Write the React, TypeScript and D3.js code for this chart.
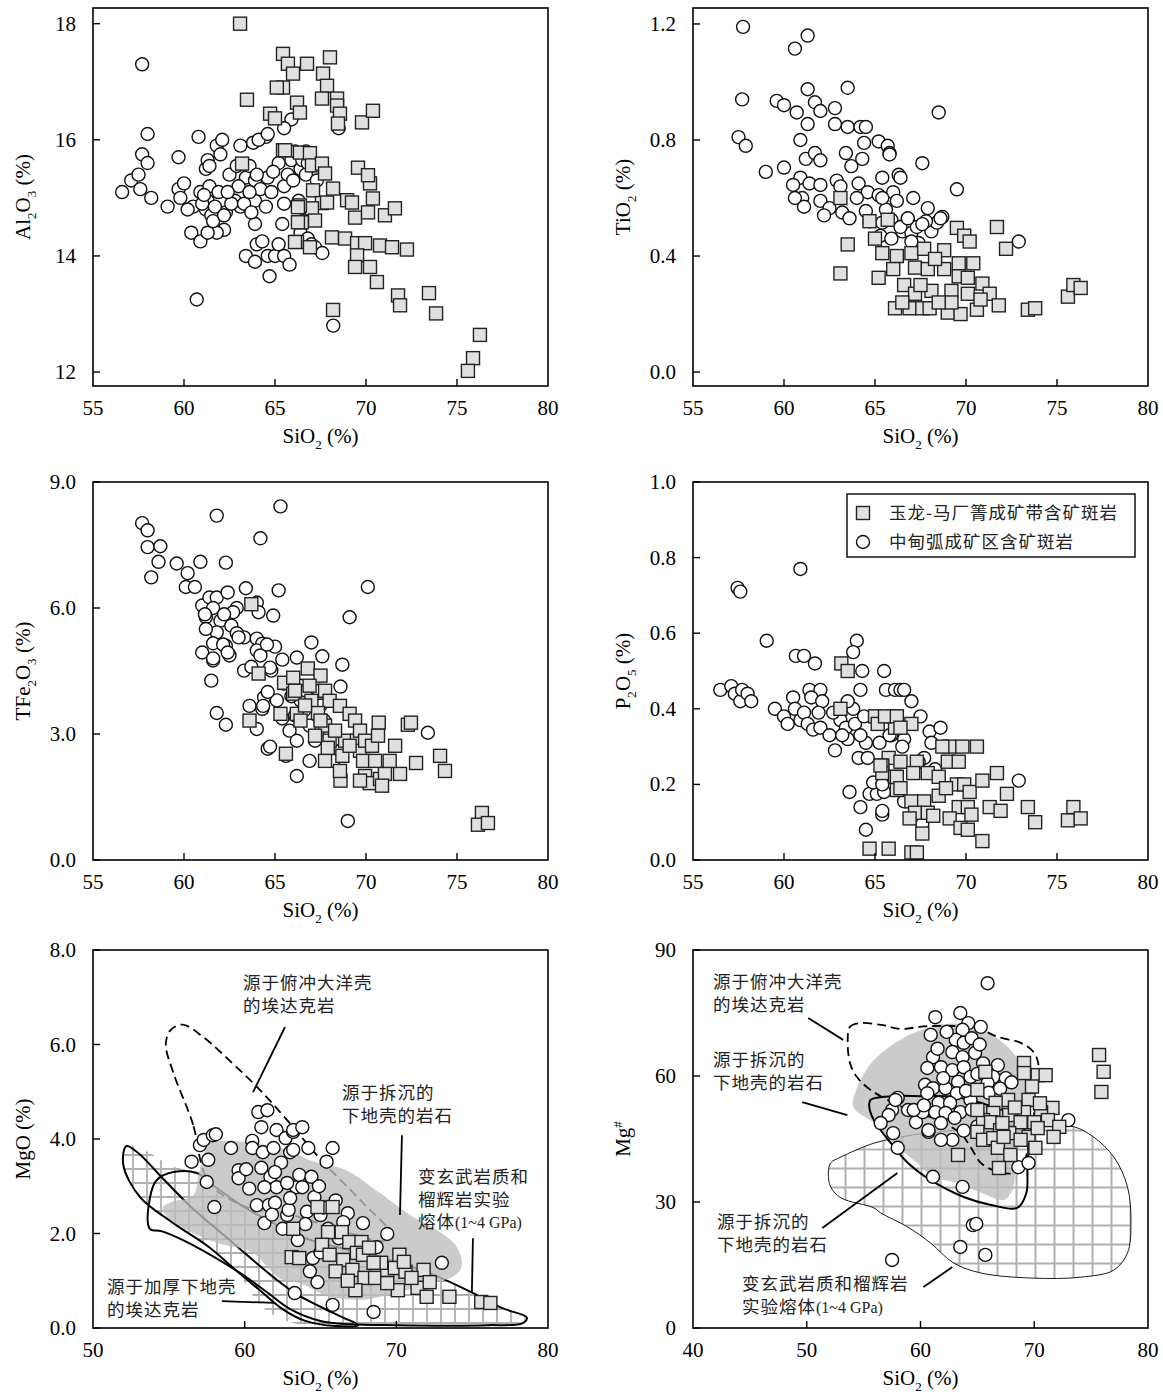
import React from "react";
import * as d3 from "d3";

type P = [number, number];

// ---------- data (SiO2, oxide) ----------
const al2o3Circles: P[] = [
  [57.7, 17.3], [58.0, 16.1], [57.7, 15.75], [58.0, 15.6], [56.6, 15.1], [57.1, 15.3], [57.5, 15.4], [57.6, 15.15],
  [58.2, 15.0], [59.1, 14.85], [59.7, 15.7], [59.7, 15.15], [60.0, 15.25], [60.8, 16.05], [60.4, 14.4], [60.7, 13.25],
  [60.9, 14.25], [60.5, 14.85], [60.9, 15.1], [61.2, 15.5], [61.3, 15.65], [61.4, 15.55], [61.4, 15.2], [61.3, 14.95],
  [61.2, 14.8], [61.5, 14.7], [61.9, 15.1], [61.8, 15.9], [62.1, 16.0], [62.0, 15.75], [62.3, 14.75], [62.2, 14.45],
  [61.8, 14.4], [61.3, 14.4], [62.8, 14.95], [63.1, 14.85], [63.1, 15.9], [63.4, 15.35], [63.6, 15.55], [63.8, 15.95],
  [63.9, 14.95], [63.9, 15.3], [64.2, 15.15], [64.5, 14.85], [64.6, 15.35], [63.9, 14.55], [64.0, 14.2], [64.3, 14.25],
  [63.4, 14.0], [63.9, 13.9], [64.6, 14.0], [64.7, 13.65], [64.5, 16.05], [64.1, 16.0], [65.0, 14.0], [65.2, 14.2],
  [65.5, 14.0], [65.8, 13.85], [65.4, 14.55], [65.5, 14.9], [65.5, 15.2], [65.7, 15.4], [65.9, 15.65], [65.9, 16.35],
  [66.1, 15.8], [66.4, 15.5], [66.3, 14.95], [66.7, 15.8], [66.5, 14.6], [66.4, 14.4], [66.8, 14.3], [67.0, 14.2],
  [67.2, 14.15], [67.6, 14.05], [68.2, 12.8], [68.5, 16.2], [66.5, 15.65], [67.0, 15.55], [66.7, 15.4], [61.0, 14.9],
  [61.6, 14.6], [62.6, 14.9], [63.3, 14.9], [64.0, 15.4], [64.8, 15.1], [65.2, 15.6], [66.0, 15.3], [66.8, 15.6],
  [67.3, 15.3], [64.6, 16.1], [65.5, 16.2], [62.5, 15.4], [63.0, 15.2], [60.2, 14.8], [59.8, 15.0], [61.1, 15.05],
  [61.7, 14.85], [62.4, 15.1], [62.9, 15.55], [63.6, 15.1], [64.9, 15.45], [62.2, 14.7], [63.7, 14.75],
];
const al2o3Squares: P[] = [
  [63.08, 18.0], [63.46, 16.69], [68.02, 17.42], [66.76, 17.31], [65.44, 17.48], [65.71, 17.31], [65.99, 17.14],
  [67.64, 17.14], [67.86, 16.93], [67.58, 16.71], [68.41, 16.71], [68.41, 16.59], [68.57, 16.45], [68.46, 16.28],
  [69.78, 16.3], [70.38, 16.5], [66.21, 16.64], [66.37, 16.47], [65.44, 16.9], [64.73, 16.45], [65.0, 16.37],
  [65.44, 15.82], [66.37, 15.78], [66.92, 15.77], [67.03, 15.56], [67.58, 15.59], [67.75, 15.42], [68.19, 15.16],
  [67.09, 15.13], [67.58, 14.91], [67.03, 14.82], [66.37, 14.87], [67.86, 14.92], [68.96, 14.96], [69.23, 14.92],
  [69.4, 14.66], [70.11, 14.75], [70.38, 14.99], [69.56, 15.52], [70.22, 15.25], [70.11, 15.39], [71.04, 14.7],
  [71.59, 14.82], [66.48, 14.58], [67.2, 14.61], [68.13, 14.32], [68.85, 14.3], [69.51, 14.22], [69.95, 14.22],
  [70.77, 14.18], [71.43, 14.15], [72.25, 14.11], [66.21, 14.24], [66.92, 14.15], [69.51, 14.01], [69.4, 13.81],
  [70.22, 13.81], [70.6, 13.55], [71.76, 13.32], [71.87, 13.15], [73.46, 13.36], [73.85, 13.01], [68.19, 13.07],
  [76.26, 12.64], [75.88, 12.24], [75.6, 12.02], [63.19, 15.59], [65.55, 15.82], [66.26, 14.84], [66.26, 14.58],
  [66.1, 14.24], [65.1, 16.9],
];

const tio2Circles: P[] = [
  [57.75, 1.19], [61.3, 1.16], [60.6, 1.115], [57.7, 0.94], [59.6, 0.935], [60.0, 0.92], [61.3, 0.975], [63.5, 0.98],
  [57.5, 0.81], [57.9, 0.78], [59.0, 0.69], [60.7, 0.895], [61.3, 0.855], [61.7, 0.93], [62.0, 0.9], [62.8, 0.91],
  [62.8, 0.855], [63.5, 0.845], [64.2, 0.845], [64.5, 0.845], [64.4, 0.79], [65.2, 0.795], [65.7, 0.78], [65.8, 0.755],
  [60.9, 0.8], [61.2, 0.735], [61.7, 0.755], [62.0, 0.73], [63.4, 0.755], [63.7, 0.71], [64.3, 0.735], [65.4, 0.67],
  [60.9, 0.67], [60.0, 0.705], [60.5, 0.645], [61.0, 0.6], [61.4, 0.65], [62.0, 0.645], [62.9, 0.66], [64.1, 0.65],
  [64.6, 0.62], [65.2, 0.61], [66.0, 0.62], [66.2, 0.59], [62.0, 0.59], [62.5, 0.565], [62.2, 0.54], [63.2, 0.55],
  [63.6, 0.53], [64.5, 0.555], [64.7, 0.52], [65.4, 0.515], [65.9, 0.525], [66.5, 0.485], [66.8, 0.52], [67.0, 0.48],
  [67.4, 0.445], [68.1, 0.485], [68.4, 0.515], [68.7, 0.535], [67.9, 0.565], [68.5, 0.895], [67.6, 0.72], [69.5, 0.63],
  [72.9, 0.45], [61.1, 0.57], [60.6, 0.6], [63.1, 0.64], [64.0, 0.6], [65.6, 0.56], [66.3, 0.68], [67.1, 0.6],
  [67.3, 0.5], [66.4, 0.5], [65.3, 0.47], [67.8, 0.52], [65.8, 0.75], [66.4, 0.67], [65.4, 0.6], [66.8, 0.53],
  [65.9, 0.46], [67.0, 0.45], [67.6, 0.51], [68.6, 0.53],
];
const tio2Squares: P[] = [
  [63.1, 0.6], [64.7, 0.52], [65.7, 0.525], [65.0, 0.46], [63.5, 0.44], [63.1, 0.34], [65.2, 0.325], [65.4, 0.41],
  [66.2, 0.4], [67.0, 0.41], [67.7, 0.425], [66.0, 0.355], [67.2, 0.36], [66.6, 0.3], [67.2, 0.27], [68.1, 0.28],
  [66.1, 0.22], [66.9, 0.22], [67.6, 0.22], [68.0, 0.22], [69.5, 0.497], [69.9, 0.47], [70.2, 0.45], [71.7, 0.5],
  [72.2, 0.425], [68.8, 0.42], [69.6, 0.375], [70.4, 0.375], [69.6, 0.33], [70.1, 0.325], [70.9, 0.305], [71.3, 0.27],
  [71.8, 0.23], [69.2, 0.28], [70.1, 0.27], [69.0, 0.205], [69.7, 0.2], [70.6, 0.215], [73.4, 0.215], [73.8, 0.22],
  [75.6, 0.26], [75.9, 0.3], [76.3, 0.29], [69.2, 0.24], [67.9, 0.355], [68.8, 0.355], [66.5, 0.24], [67.5, 0.3],
  [68.5, 0.24], [70.8, 0.25], [68.3, 0.39],
];

const tfeCircles: P[] = [
  [57.7, 8.02], [58.0, 7.85], [58.0, 7.45], [58.7, 7.47], [58.6, 7.1], [58.2, 6.73], [59.6, 7.06], [60.2, 6.83],
  [60.1, 6.5], [60.6, 6.5], [60.9, 7.1], [61.8, 8.2], [62.3, 7.08], [64.2, 7.66], [65.3, 8.42], [61.0, 6.06],
  [61.4, 6.25], [61.8, 6.25], [62.4, 6.37], [63.4, 6.47], [61.2, 5.78], [61.6, 6.0], [62.0, 5.7], [62.6, 5.58],
  [61.8, 5.42], [61.2, 5.5], [61.6, 5.16], [62.3, 5.1], [61.0, 4.94], [61.6, 4.75], [61.5, 4.27], [62.5, 4.87],
  [63.3, 5.3], [64.0, 5.27], [64.3, 5.15], [65.0, 5.08], [64.0, 4.99], [64.2, 4.87], [65.4, 4.77], [63.3, 4.51],
  [64.8, 4.51], [61.8, 3.5], [62.3, 3.22], [63.6, 3.67], [64.0, 3.12], [64.6, 2.65], [64.4, 3.87], [64.3, 3.6],
  [65.1, 3.8], [64.0, 6.13], [64.1, 5.9], [64.9, 5.82], [65.2, 6.42], [66.2, 4.82], [65.6, 2.48], [66.2, 2.0],
  [67.0, 5.18], [67.6, 4.85], [68.7, 4.65], [69.1, 5.78], [70.1, 6.5], [69.0, 0.93], [68.6, 4.13], [67.4, 4.03],
  [66.4, 3.8], [66.6, 3.56], [66.9, 3.2], [67.2, 2.84], [68.0, 2.96], [67.5, 3.68], [66.4, 4.15], [73.4, 3.03],
  [65.8, 3.08], [66.1, 3.44], [66.2, 2.84], [65.4, 3.37], [66.7, 4.03], [67.7, 3.32], [68.6, 2.6], [68.2, 2.36],
  [66.9, 2.36], [62.9, 6.0], [62.7, 5.9], [62.9, 5.4], [63.7, 4.6], [65.5, 4.2], [64.6, 4.0], [65.9, 3.9],
  [63.0, 5.3], [64.56, 5.13], [64.73, 4.58], [62.2, 5.85], [61.15, 5.85], [62.15, 5.13], [62.4, 4.94], [61.6, 4.8],
  [64.35, 3.67], [64.73, 2.7],
];
const tfeSquares: P[] = [
  [63.7, 6.09], [64.1, 4.44], [63.6, 3.32], [65.3, 3.48], [65.5, 4.22], [66.0, 4.34], [66.0, 3.96], [66.2, 3.48],
  [65.6, 2.53], [66.8, 4.56], [67.5, 4.39], [67.75, 4.03], [68.0, 3.79], [68.57, 3.67], [69.1, 3.48], [69.4, 3.32],
  [67.0, 3.79], [67.36, 3.5], [67.75, 3.2], [68.0, 2.84], [68.85, 2.84], [68.7, 2.48], [68.6, 1.89], [68.57, 2.12],
  [69.5, 2.84], [69.67, 2.6], [69.84, 2.36], [69.95, 2.0], [70.2, 1.83], [70.77, 1.93], [71.04, 2.05], [69.67, 3.08],
  [69.95, 2.84], [70.33, 2.72], [70.7, 3.27], [72.3, 3.22], [72.47, 3.27], [72.75, 2.31], [74.07, 2.48], [74.34, 2.12],
  [71.87, 2.05], [70.88, 1.77], [69.67, 1.89], [76.37, 1.12], [76.15, 0.84], [76.7, 0.88], [67.75, 2.36], [67.9, 2.67],
  [68.3, 3.08], [67.2, 2.96], [66.4, 3.32], [66.65, 3.68], [66.1, 4.03], [66.9, 4.15], [67.5, 3.32], [69.1, 2.72],
  [70.5, 2.36], [71.3, 2.36], [71.6, 2.72], [70.66, 2.96],
];

const p2o5Circles: P[] = [
  [56.5, 0.45], [57.1, 0.46], [57.3, 0.44], [57.6, 0.42], [57.7, 0.45], [58.0, 0.44], [58.2, 0.42], [57.45, 0.72],
  [57.6, 0.71], [59.05, 0.58], [60.9, 0.77], [60.65, 0.54], [61.1, 0.54], [61.7, 0.52], [59.5, 0.4], [60.0, 0.38],
  [60.5, 0.43], [60.6, 0.4], [60.9, 0.37], [61.4, 0.45], [62.0, 0.45], [61.5, 0.43], [62.1, 0.42], [61.1, 0.39],
  [61.3, 0.36], [61.6, 0.345], [61.9, 0.39], [62.0, 0.35], [62.8, 0.29], [63.1, 0.37], [63.4, 0.35], [63.5, 0.32],
  [63.9, 0.36], [63.8, 0.4], [64.0, 0.58], [63.8, 0.55], [64.3, 0.5], [64.2, 0.45], [63.5, 0.42], [64.4, 0.38],
  [64.1, 0.27], [64.6, 0.27], [64.5, 0.31], [64.2, 0.33], [63.6, 0.18], [64.2, 0.14], [64.5, 0.08], [64.7, 0.175],
  [65.1, 0.175], [64.9, 0.205], [65.4, 0.12], [65.5, 0.5], [65.6, 0.45], [65.25, 0.31], [65.9, 0.33], [66.1, 0.45],
  [65.5, 0.18], [66.4, 0.45], [66.6, 0.45], [66.2, 0.37], [66.6, 0.32], [67.0, 0.42], [67.5, 0.38], [68.0, 0.34],
  [68.6, 0.35], [67.7, 0.27], [68.3, 0.24], [68.1, 0.31], [67.4, 0.26], [72.9, 0.21], [65.4, 0.2], [65.4, 0.13],
  [67.6, 0.095], [66.6, 0.155], [65.8, 0.33], [66.5, 0.3], [62.5, 0.33], [60.2, 0.36], [62.7, 0.39], [63.2, 0.33],
];
const p2o5Squares: P[] = [
  [63.15, 0.52], [63.5, 0.5], [63.1, 0.4], [65.0, 0.38], [65.15, 0.36], [66.0, 0.38], [66.1, 0.35], [65.75, 0.27],
  [65.4, 0.25], [65.4, 0.23], [66.1, 0.22], [66.2, 0.185], [64.7, 0.03], [65.75, 0.03], [65.55, 0.38], [66.2, 0.38],
  [67.0, 0.36], [66.4, 0.35], [65.3, 0.25], [66.4, 0.26], [67.3, 0.26], [67.9, 0.23], [67.1, 0.23], [66.2, 0.22],
  [66.4, 0.19], [67.0, 0.155], [67.7, 0.155], [68.5, 0.17], [67.2, 0.125], [67.9, 0.125], [66.9, 0.11], [68.2, 0.117],
  [67.6, 0.07], [67.0, 0.02], [67.3, 0.02], [69.1, 0.3], [69.8, 0.3], [70.6, 0.3], [69.0, 0.26], [69.6, 0.26],
  [69.5, 0.2], [69.9, 0.2], [70.2, 0.18], [69.6, 0.14], [70.1, 0.14], [69.1, 0.11], [69.7, 0.085], [70.1, 0.08],
  [70.3, 0.12], [70.9, 0.05], [70.9, 0.21], [71.7, 0.23], [72.25, 0.175], [71.3, 0.14], [71.9, 0.13], [73.4, 0.14],
  [73.8, 0.1], [75.6, 0.105], [75.9, 0.14], [76.3, 0.11], [68.7, 0.3], [68.5, 0.22], [68.9, 0.19],
];

const mgoCircles: P[] = [
  [57.05, 3.87], [57.3, 3.98], [57.9, 4.08], [58.1, 4.1], [56.5, 3.52], [57.6, 3.56], [57.5, 3.09], [58.0, 2.56],
  [59.1, 3.81], [59.6, 3.34], [59.6, 3.17], [60.1, 3.36], [60.5, 3.96], [60.9, 4.57], [61.5, 4.61], [61.1, 4.25],
  [60.5, 3.81], [61.2, 3.72], [61.9, 3.81], [62.1, 4.19], [62.7, 4.02], [63.2, 4.15], [63.0, 3.72], [61.1, 3.39],
  [61.7, 3.2], [62.1, 2.98], [63.4, 2.98], [61.3, 2.98], [60.8, 2.6], [61.6, 2.6], [62.0, 2.65], [61.3, 2.22],
  [62.8, 2.39], [63.3, 0.74], [63.5, 1.86], [63.2, 4.19], [63.8, 4.25], [63.2, 3.77], [64.2, 3.81], [65.8, 3.81],
  [65.4, 3.52], [63.6, 3.24], [64.4, 3.2], [62.8, 3.07], [63.8, 2.98], [64.6, 2.77], [66.0, 2.7], [62.9, 2.5],
  [64.1, 2.46], [65.0, 2.39], [66.8, 2.43], [66.5, 2.24], [67.8, 2.22], [68.7, 1.71], [69.4, 1.99], [64.5, 1.48],
  [64.8, 0.97], [65.8, 0.49], [68.5, 0.34], [73.0, 1.38], [62.4, 3.5], [62.0, 3.3], [63.0, 2.75], [64.9, 3.0],
  [65.2, 2.55], [61.8, 2.4], [60.3, 2.95], [62.5, 2.1], [64.0, 2.2], [65.5, 2.1], [66.2, 1.9], [64.3, 1.2], [65.0, 1.6],
];
const mgoSquares: P[] = [
  [63.2, 2.1], [63.1, 1.5], [63.6, 1.48], [64.8, 2.56], [65.8, 2.56], [65.5, 2.03], [66.4, 2.03], [66.9, 1.82],
  [67.7, 1.82], [65.1, 1.76], [65.6, 1.55], [66.5, 1.44], [67.4, 1.59], [67.8, 1.55], [67.1, 1.23], [67.9, 1.06],
  [68.6, 1.06], [69.4, 1.23], [69.9, 1.27], [70.2, 1.55], [70.6, 1.19], [71.4, 0.85], [71.8, 1.23], [72.2, 0.97],
  [72.0, 0.66], [70.1, 0.8], [67.3, 0.8], [73.5, 0.66], [75.6, 0.55], [76.2, 0.53], [69.0, 1.38], [69.4, 0.95],
  [68.5, 1.38], [71.0, 1.06], [66.0, 1.2], [68.2, 1.7], [70.5, 1.4], [66.8, 1.0],
];

const mgnoCircles: P[] = [
  [61.3, 74.0], [60.9, 69.8], [61.1, 64.5], [60.6, 61.9], [60.4, 57.9], [61.1, 57.1], [60.6, 55.9], [58.0, 54.8],
  [57.5, 51.9], [57.2, 50.7], [56.5, 48.8], [57.6, 46.4], [58.0, 42.9], [58.9, 51.9], [59.6, 51.4], [59.6, 49.0],
  [60.7, 46.7], [60.2, 51.4], [61.1, 36.0], [57.5, 16.2], [65.9, 82.1], [63.5, 75.0], [64.2, 72.6], [65.3, 71.7],
  [63.7, 71.0], [63.1, 68.6], [63.8, 67.9], [62.8, 65.7], [63.7, 64.5], [61.8, 62.1], [62.8, 61.4], [63.8, 62.1],
  [66.8, 62.6], [64.4, 59.8], [63.3, 58.6], [66.4, 59.8], [67.5, 59.5], [65.9, 58.3], [62.2, 57.1], [63.2, 55.9],
  [64.4, 54.3], [61.6, 53.6], [62.6, 53.6], [63.5, 51.4], [57.8, 54.3], [59.4, 51.9], [61.3, 51.4], [62.2, 51.2],
  [60.7, 47.1], [61.8, 48.8], [62.8, 44.8], [61.8, 44.8], [73.0, 49.5], [68.6, 38.3], [69.5, 39.3], [63.7, 33.6],
  [64.6, 24.5], [63.5, 19.3], [65.7, 17.4], [64.0, 56.5], [65.0, 60.5], [62.0, 59.5], [64.8, 65.5], [65.5, 63.0],
  [61.5, 66.5], [62.3, 70.5], [64.5, 69.0], [65.2, 67.5], [63.0, 50.0], [64.5, 52.0], [66.0, 56.0], [67.0, 57.0],
  [68.0, 58.5], [65.0, 48.0], [63.8, 47.0], [60.3, 53.0], [64.9, 24.8],
];
const mgnoSquares: P[] = [
  [75.7, 65.0], [76.1, 61.0], [75.9, 56.2], [69.1, 63.1], [69.1, 60.7], [70.3, 60.2], [71.0, 60.2], [65.7, 61.0],
  [65.0, 56.7], [67.7, 54.3], [66.6, 53.6], [69.5, 54.3], [71.6, 52.4], [66.4, 51.2], [67.8, 50.7], [69.1, 51.4],
  [70.6, 51.4], [65.5, 49.5], [66.2, 49.0], [68.8, 49.0], [70.0, 49.0], [71.2, 49.5], [72.2, 47.9], [67.0, 47.1],
  [65.0, 46.7], [65.5, 44.8], [66.4, 45.2], [67.8, 46.4], [69.5, 45.5], [70.3, 47.6], [71.7, 45.5], [68.8, 44.8],
  [66.8, 42.9], [67.9, 41.2], [70.1, 42.9], [63.3, 41.2], [66.9, 38.1], [65.0, 51.9], [67.3, 45.5], [68.3, 52.5],
  [69.8, 57.5], [70.5, 53.5], [67.2, 48.8],
];

// ---------- field outlines (SiO2, MgO) ----------
const mgoMelt: P[] = [
  [52.2, 3.85], [53.5, 3.75], [55, 3.45], [56.5, 3.3], [57.5, 3.05], [59, 2.7], [61, 2.3], [63, 2.0], [65, 1.78],
  [67, 1.6], [70, 1.38], [72.5, 1.1], [75, 0.72], [77, 0.4], [78.5, 0.22], [78.2, 0.1], [76, 0.08], [72, 0.07],
  [67, 0.07], [63, 0.12], [61, 0.5], [59.5, 1.2], [57.7, 1.7], [55.3, 2.2], [53.2, 2.75], [52.0, 3.4],
];
const mgoThick: P[] = [
  [52.2, 3.85], [53.0, 3.7], [54.5, 3.2], [56.5, 2.55], [58.5, 2.0], [60.5, 1.45], [62, 1.05], [63.5, 0.7],
  [65, 0.45], [66.5, 0.22], [67.5, 0.06], [66, 0.04], [64, 0.15], [62.5, 0.4], [61, 0.8], [59.5, 1.2], [57.7, 1.7],
  [55.3, 2.22], [53.1, 2.77], [52.0, 3.45],
];
const mgoMeltLine: P[] = [
  [53.75, 2.1], [53.75, 2.75], [54.2, 3.13], [55.3, 3.3], [56.85, 3.28], [58, 3.0], [60, 2.55], [62, 2.2], [64, 1.9],
  [66, 1.72], [68, 1.55], [70, 1.4], [72.5, 1.12], [75, 0.75], [77, 0.42], [78.6, 0.22], [78.3, 0.1], [76, 0.06],
  [73.6, 0.05], [70, 0.06], [67, 0.08], [65, 0.15], [63, 0.4], [61.5, 0.75], [60, 1.1], [58, 1.5], [56, 1.85], [54.5, 2.05],
];
const mgoSlab: P[] = [
  [57.3, 3.3], [56.6, 4.3], [55.3, 5.4], [54.8, 6.0], [55.1, 6.3], [55.9, 6.42], [57.3, 6.15], [59.2, 5.6], [61, 5.04],
  [62.8, 4.4], [65.2, 3.5], [67.8, 2.65], [69.6, 2.0], [69.3, 1.85], [67, 2.0], [63, 2.4], [60.2, 2.55], [58, 2.95],
];
const mgoDelam: P[] = [
  [54.6, 2.55], [55.3, 2.68], [56.6, 2.8], [57.0, 3.3], [57.7, 3.9], [59.2, 3.95], [61, 3.9], [63, 3.75], [64.3, 3.55],
  [66.7, 3.34], [68.9, 2.86], [71.1, 2.35], [72.7, 2.07], [74.0, 1.71], [74.3, 1.29], [73.7, 1.08], [72.2, 0.95],
  [70, 0.74], [67.8, 0.6], [65.6, 0.66], [63.6, 0.95], [62.3, 1.05], [60.5, 1.6], [58.2, 1.8], [56.2, 2.07], [54.9, 2.35],
];

// ---------- field outlines (SiO2, Mg#) ----------
const mgnoMelt: P[] = [
  [52.1, 39.3], [53, 40.7], [55.9, 44], [59.4, 46], [62, 46.8], [65.3, 47.9], [68, 48.3], [71.2, 48.3], [73.5, 47.9],
  [75.2, 45.5], [77, 40.7], [78.2, 33.6], [78.5, 25], [78.2, 17.9], [77, 13.8], [74.1, 12.1], [69.7, 11.9], [65.3, 13.1],
  [62.9, 15.5], [60.9, 20.2], [58.9, 24], [56.5, 27.4], [55.9, 28.6], [53, 31], [52.1, 33.6], [51.9, 36.9],
];
const mgnoDelam: P[] = [
  [54.1, 52.6], [54.45, 57.4], [55.9, 63.8], [58.2, 68.6], [60.9, 71.7], [63, 72.5], [65, 71.5], [67, 68.5],
  [68.8, 63], [69.4, 57], [69, 48], [68.4, 40], [68.1, 33], [67.3, 30.5], [65.5, 32], [63.3, 34.5], [61.1, 36],
  [59.7, 39.3], [57.6, 44], [55.9, 48.8],
];
const mgnoDelamLine: P[] = [
  [55.6, 54.3], [57.6, 55.2], [60, 55.2], [63, 55], [66, 53], [68.5, 50], [69.4, 45], [69.4, 37.6], [69.3, 32.1],
  [68.5, 28.6], [66.2, 29.3], [63.8, 31.2], [60.9, 35.2], [58.9, 39.3], [57.4, 44], [55.9, 49.5], [55.5, 52.6],
];
const mgnoSlab: P[] = [
  [53.6, 68.6], [53.8, 71.7], [54.7, 72.6], [56.7, 72.1], [58.2, 71.2], [60.3, 71.8], [63, 71.9], [65.3, 71],
  [66.8, 69.3], [68.8, 67.9], [70, 65.5], [70.4, 62.1], [70.2, 55], [69.8, 48], [69.4, 42.4], [69.1, 39.3],
  [68.2, 36.9], [66.5, 37.5], [65.3, 39.3], [64.4, 43.1], [63.5, 46.4], [60.9, 50.2], [58.5, 52.5], [55.6, 56.7],
  [54.4, 59.8], [53.8, 63.1],
];

const SERIF = "'Liberation Serif', 'Times New Roman', serif";
const CJK = "'Noto Sans CJK SC', sans-serif";
const FS = 21;

type Sc = d3.ScaleLinear<number, number>;

// text with sub/superscripts: 1 = sub, -1 = sup
function chem(parts: [string, number][], size: number) {
  let cur = 0;
  return parts.map(([t, s], i) => {
    const target = s === 1 ? size * 0.3 : s === -1 ? -size * 0.4 : 0;
    const dy = target - cur;
    cur = target;
    return (
      <tspan key={i} dy={dy} fontSize={s ? size * 0.62 : size}>
        {t}
      </tspan>
    );
  });
}

interface PanelProps {
  left: number;
  top: number;
  xDomain: [number, number];
  yDomain: [number, number];
  xTicks: number[];
  xLabels: number[];
  yTicks: number[];
  yFmt: (v: number) => string;
  yTitle: [string, number][];
  circles: P[];
  squares: P[];
  under?: (x: Sc, y: Sc) => React.ReactNode;
  over?: (x: Sc, y: Sc) => React.ReactNode;
}

const W = 455;
const H = 378;

function Panel(p: PanelProps) {
  const x = d3.scaleLinear().domain(p.xDomain).range([p.left, p.left + W]);
  const y = d3.scaleLinear().domain(p.yDomain).range([p.top + H, p.top]);
  const bottom = p.top + H;
  const s = 13;
  return (
    <g>
      {p.under && p.under(x, y)}
      {p.circles.map((d, i) => (
        <circle key={"c" + i} cx={x(d[0])} cy={y(d[1])} r={6.5} fill="#fff" stroke="#111" strokeWidth={1.4} />
      ))}
      {p.squares.map((d, i) => (
        <rect key={"s" + i} x={x(d[0]) - s / 2} y={y(d[1]) - s / 2} width={s} height={s} fill="#e0e0e0" stroke="#222" strokeWidth={1.4} />
      ))}
      {p.over && p.over(x, y)}
      <rect x={p.left} y={p.top} width={W} height={H} fill="none" stroke="#000" strokeWidth={1.6} />
      {p.xTicks.map((t) => (
        <line key={"xt" + t} x1={x(t)} x2={x(t)} y1={bottom} y2={bottom - 7} stroke="#000" strokeWidth={1.4} />
      ))}
      {p.yTicks.map((t) => (
        <line key={"yt" + t} x1={p.left} x2={p.left + 7} y1={y(t)} y2={y(t)} stroke="#000" strokeWidth={1.4} />
      ))}
      <g fontFamily={SERIF} fontSize={FS} fill="#000">
        {p.xLabels.map((t) => (
          <text key={"xl" + t} x={x(t)} y={bottom + 29} textAnchor="middle">
            {t}
          </text>
        ))}
        {p.yTicks.map((t) => (
          <text key={"yl" + t} x={p.left - 17} y={y(t) + 7} textAnchor="end">
            {p.yFmt(t)}
          </text>
        ))}
        <text x={p.left + W / 2} y={bottom + 57} textAnchor="middle">
          {chem([["SiO", 0], ["2", 1], [" (%)", 0]], FS)}
        </text>
        <text transform={`translate(${p.left - 70},${p.top + H / 2}) rotate(-90)`} y={7} textAnchor="middle">
          {chem(p.yTitle, FS)}
        </text>
      </g>
    </g>
  );
}

function Label({ x, y, lines, gpa }: { x: number; y: number; lines: string[]; gpa?: boolean }) {
  return (
    <text x={x} y={y} fontFamily={CJK} fontSize={17.5} fill="#222" letterSpacing={1}>
      {lines.map((l, i) => (
        <tspan key={i} x={x} dy={i === 0 ? 0 : 22.5}>
          {l}
          {gpa && i === lines.length - 1 && (
            <tspan fontFamily={SERIF} fontSize={16} letterSpacing={0}>
              (1~4 GPa)
            </tspan>
          )}
        </tspan>
      ))}
    </text>
  );
}

export default function App() {
  const f1 = d3.format(".1f");
  const fd = d3.format("d");
  const closed = (x: Sc, y: Sc) =>
    d3
      .line<P>()
      .x((d) => x(d[0]))
      .y((d) => y(d[1]))
      .curve(d3.curveCatmullRomClosed.alpha(0.5));
  const lead = (x: Sc, y: Sc, a: P, b: P) => (
    <line x1={x(a[0])} y1={y(a[1])} x2={x(b[0])} y2={y(b[1])} stroke="#000" strokeWidth={1.8} />
  );

  return (
    <svg width={1163} height={1396} style={{ position: "absolute", left: 0, top: 0, background: "#fff" }}>
      <defs>
        <pattern id="grid5" patternUnits="userSpaceOnUse" width={14} height={14}>
          <rect width={14} height={14} fill="#fff" />
          <path d="M0 7H14M7 0V14" stroke="#b0b0b0" strokeWidth={1.8} />
        </pattern>
        <pattern id="grid6" patternUnits="userSpaceOnUse" width={19} height={19}>
          <rect width={19} height={19} fill="#fff" />
          <path d="M0 9.5H19M9.5 0V19" stroke="#b0b0b0" strokeWidth={2} />
        </pattern>
      </defs>

      <Panel
        left={93} top={8} xDomain={[55, 80]} yDomain={[11.76, 18.27]}
        xTicks={[60, 65, 70, 75]} xLabels={[55, 60, 65, 70, 75, 80]}
        yTicks={[12, 14, 16, 18]} yFmt={fd}
        yTitle={[["Al", 0], ["2", 1], ["O", 0], ["3", 1], [" (%)", 0]]}
        circles={al2o3Circles} squares={al2o3Squares}
      />
      <Panel
        left={693} top={8} xDomain={[55, 80]} yDomain={[-0.048, 1.255]}
        xTicks={[60, 65, 70, 75]} xLabels={[55, 60, 65, 70, 75, 80]}
        yTicks={[0, 0.4, 0.8, 1.2]} yFmt={f1}
        yTitle={[["TiO", 0], ["2", 1], [" (%)", 0]]}
        circles={tio2Circles} squares={tio2Squares}
      />
      <Panel
        left={93} top={482} xDomain={[55, 80]} yDomain={[0, 9]}
        xTicks={[60, 65, 70, 75]} xLabels={[55, 60, 65, 70, 75, 80]}
        yTicks={[0, 3, 6, 9]} yFmt={f1}
        yTitle={[["TFe", 0], ["2", 1], ["O", 0], ["3", 1], [" (%)", 0]]}
        circles={tfeCircles} squares={tfeSquares}
      />
      <Panel
        left={693} top={482} xDomain={[55, 80]} yDomain={[0, 1]}
        xTicks={[60, 65, 70, 75]} xLabels={[55, 60, 65, 70, 75, 80]}
        yTicks={[0, 0.2, 0.4, 0.6, 0.8, 1.0]} yFmt={f1}
        yTitle={[["P", 0], ["2", 1], ["O", 0], ["5", 1], [" (%)", 0]]}
        circles={p2o5Circles} squares={p2o5Squares}
        over={() => (
          <g>
            <rect x={847} y={494} width={288} height={63} fill="#fff" stroke="#000" strokeWidth={1.4} />
            <rect x={856.5} y={506.5} width={13} height={13} fill="#e0e0e0" stroke="#222" strokeWidth={1.4} />
            <circle cx={863} cy={542} r={6.5} fill="#fff" stroke="#111" strokeWidth={1.4} />
            <g fontFamily={CJK} fontSize={17.5} fill="#222" letterSpacing={1}>
              <text x={889} y={519}>玉龙-马厂箐成矿带含矿斑岩</text>
              <text x={889} y={548}>中甸弧成矿区含矿斑岩</text>
            </g>
          </g>
        )}
      />
      <Panel
        left={93} top={950} xDomain={[50, 80]} yDomain={[0, 8]}
        xTicks={[60, 70]} xLabels={[50, 60, 70, 80]}
        yTicks={[0, 2, 4, 6, 8]} yFmt={f1}
        yTitle={[["MgO (%)", 0]]}
        circles={mgoCircles} squares={mgoSquares}
        under={(x, y) => {
          const ln = closed(x, y);
          return (
            <g>
              <path d={ln(mgoMelt) || ""} fill="url(#grid5)" stroke="none" />
              <path d={ln(mgoThick) || ""} fill="none" stroke="#000" strokeWidth={2} />
              <path d={ln(mgoMeltLine) || ""} fill="none" stroke="#000" strokeWidth={2} />
              <path d={ln(mgoSlab) || ""} fill="none" stroke="#000" strokeWidth={1.8} strokeDasharray="9 5" />
              <path d={ln(mgoDelam) || ""} fill="#bdbdbd" opacity={0.78} stroke="none" />
            </g>
          );
        }}
        over={(x, y) => (
          <g>
            {lead(x, y, [62.66, 6.37], [60.55, 4.99])}
            {lead(x, y, [70.37, 4.08], [70.24, 2.39])}
            {lead(x, y, [75.05, 1.9], [74.98, 0.74])}
            {lead(x, y, [58.5, 0.57], [62.0, 0.53])}
            <Label x={243} y={989} lines={["源于俯冲大洋壳", "的埃达克岩"]} />
            <Label x={342} y={1099} lines={["源于拆沉的", "下地壳的岩石"]} />
            <Label x={418} y={1183} lines={["变玄武岩质和", "榴辉岩实验", "熔体"]} gpa />
            <Label x={107} y={1293} lines={["源于加厚下地壳", "的埃达克岩"]} />
          </g>
        )}
      />
      <Panel
        left={693} top={950} xDomain={[40, 80]} yDomain={[0, 90]}
        xTicks={[50, 60, 70]} xLabels={[40, 50, 60, 70, 80]}
        yTicks={[0, 30, 60, 90]} yFmt={fd}
        yTitle={[["Mg", 0], ["#", -1]]}
        circles={mgnoCircles} squares={mgnoSquares}
        under={(x, y) => {
          const ln = closed(x, y);
          return (
            <g>
              <path d={ln(mgnoMelt) || ""} fill="url(#grid6)" stroke="#000" strokeWidth={0.9} />
              <path d={ln(mgnoDelam) || ""} fill="#bdbdbd" opacity={0.78} stroke="none" />
              <path d={ln(mgnoDelamLine) || ""} fill="none" stroke="#000" strokeWidth={2} />
              <path d={ln(mgnoSlab) || ""} fill="none" stroke="#000" strokeWidth={1.8} strokeDasharray="9 5" />
            </g>
          );
        }}
        over={(x, y) => (
          <g>
            {lead(x, y, [50.13, 73.8], [53.2, 68.6])}
            {lead(x, y, [49.6, 53.8], [53.57, 50.7])}
            {lead(x, y, [51.37, 23.8], [57.97, 36.9])}
            {lead(x, y, [60.26, 9.76], [62.8, 14.5])}
            <Label x={713} y={988} lines={["源于俯冲大洋壳", "的埃达克岩"]} />
            <Label x={713} y={1066} lines={["源于拆沉的", "下地壳的岩石"]} />
            <Label x={717} y={1228} lines={["源于拆沉的", "下地壳的岩石"]} />
            <Label x={742} y={1290} lines={["变玄武岩质和榴辉岩", "实验熔体"]} gpa />
          </g>
        )}
      />
    </svg>
  );
}
